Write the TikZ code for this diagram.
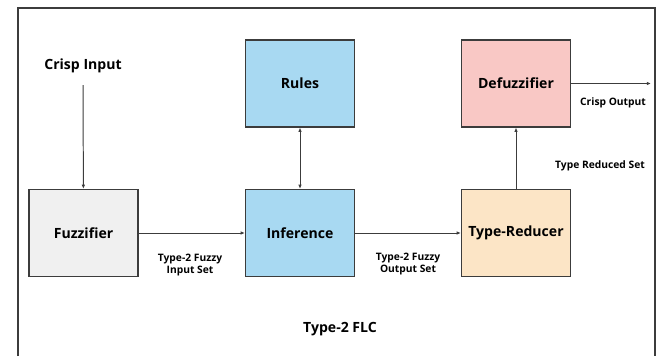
\documentclass[tikz,border=0pt]{standalone}
\usepackage{fontspec}
\setmainfont{Open Sans}
\usetikzlibrary{arrows.meta}
\definecolor{ruleblue}{HTML}{A8D9F2}
\definecolor{defpink}{HTML}{F9C8C5}
\definecolor{redtan}{HTML}{FCE5C6}
\definecolor{fuzgray}{HTML}{F0F0F0}
\definecolor{edgegray}{HTML}{3C3C3C}
\tikzset{
  block/.style={draw=edgegray,line width=1pt,inner sep=0pt,
    minimum width=2.72cm,minimum height=2.17cm,
    font=\bfseries\fontsize{10}{12}\selectfont},
  lbl/.style={align=center,font=\bfseries\fontsize{7.3}{8.3}\selectfont},
  arr/.style={-{Latex[length=3pt,width=2.5pt]},line width=0.7pt,draw=edgegray},
}
\begin{document}
\begin{tikzpicture}[x=0.025cm,y=-0.025cm]
  \useasboundingbox (0,0) rectangle (661,356);
  % outer frame, open at the bottom
  \draw[edgegray,line width=1.1pt] (18,356) -- (18,8) -- (655,8) -- (655,356);

  \node[font=\bfseries\fontsize{10}{12}\selectfont] (crisp) at (83,66) {Crisp Input};
  \node[block,fill=fuzgray] (fuzz) at (83.5,233) {Fuzzifier};
  \node[block,fill=ruleblue] (rules) at (300,83.5) {Rules};
  \node[block,fill=ruleblue] (inf) at (300,233) {Inference};
  \node[block,fill=defpink] (defuzz) at (516,83.5) {Defuzzifier};
  \node[block,fill=redtan] (red) at (516,233) {Type-Reducer};
  \coordinate (out) at (651,83.5);

  \draw[arr,shorten <=5pt] (crisp) -- (fuzz);
  \draw[arr] (fuzz) -- (inf);
  \draw[arr,{Latex[length=3pt,width=2.5pt]}-{Latex[length=3pt,width=2.5pt]}] (inf) -- (rules);
  \draw[arr] (inf) -- (red);
  \draw[arr] (red) -- (defuzz);
  \draw[arr] (defuzz) -- (out);

  \node[lbl] (inlbl) at (190,265) {Type-2 Fuzzy\\Input Set};
  \node[lbl] (outlbl) at (408,264) {Type-2 Fuzzy\\Output Set};
  \node[lbl] (colbl) at (613,103) {Crisp Output};
  \node[lbl] (trlbl) at (600,166) {Type Reduced Set};
  \node[font=\bfseries\fontsize{10}{12}\selectfont] (flc) at (340,329) {Type-2 FLC};
\end{tikzpicture}
\end{document}
